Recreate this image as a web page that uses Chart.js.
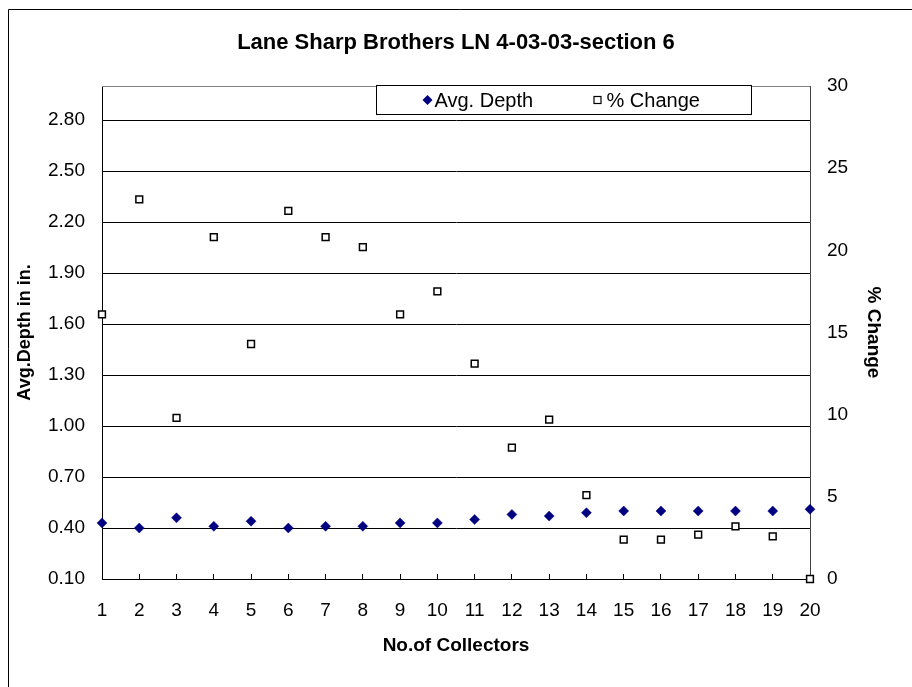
<!DOCTYPE html>
<html>
<head>
<meta charset="utf-8">
<title>Lane Sharp Brothers LN 4-03-03-section 6</title>
<script src="https://cdn.jsdelivr.net/npm/chart.js@4.4.1/dist/chart.umd.min.js"></script>
<style>
    html, body { margin: 0; padding: 0; background: #fff; }
</style>
</head>
<body>
<canvas id="depthChart" width="912" height="687"></canvas>
<script>
// collector number on x, avg depth (in.) on left axis, % change on right axis
const collectors = [1, 2, 3, 4, 5, 6, 7, 8, 9, 10, 11, 12, 13, 14, 15, 16, 17, 18, 19, 20];
const avgDepth = [0.43, 0.40, 0.46, 0.41, 0.44, 0.40, 0.41, 0.41, 0.43, 0.43,
                  0.45, 0.48, 0.47, 0.49, 0.50, 0.50, 0.50, 0.50, 0.50, 0.51];
const pctChange = [16.1, 23.1, 9.8, 20.8, 14.3, 22.4, 20.8, 20.2, 16.1, 17.5,
                   13.1, 8.0, 9.7, 5.1, 2.4, 2.4, 2.7, 3.2, 2.6, 0];
const depthTicks = [0.10, 0.40, 0.70, 1.00, 1.30, 1.60, 1.90, 2.20, 2.50, 2.80];
const changeTicks = [0, 5, 10, 15, 20, 25, 30];

const FONT = '"Liberation Sans", Arial, sans-serif';

// thin frame round the whole chart (only left/top edges show in the original)
const outerFrame = {
    id: 'outerFrame',
    beforeDraw(chart) {
        const ctx = chart.ctx;
        ctx.save();
        ctx.fillStyle = '#fff';
        ctx.fillRect(0, 0, chart.width, chart.height);
        ctx.strokeStyle = '#000';
        ctx.lineWidth = 1;
        ctx.beginPath();
        ctx.moveTo(8.5, chart.height + 2);
        ctx.lineTo(8.5, 9.5);
        ctx.lineTo(chart.width + 2, 9.5);
        ctx.stroke();
        ctx.restore();
    }
};

// top edge of plot area
const plotTop = {
    id: 'plotTop',
    beforeDatasetsDraw(chart) {
        const {ctx, chartArea} = chart;
        ctx.save();
        ctx.strokeStyle = '#808080';
        ctx.lineWidth = 1;
        ctx.beginPath();
        ctx.moveTo(chartArea.left, Math.round(chartArea.top) + 0.5);
        ctx.lineTo(chartArea.right, Math.round(chartArea.top) + 0.5);
        ctx.stroke();
        ctx.restore();
    }
};

// boxed legend sitting on the top edge of the plot
const boxLegend = {
    id: 'boxLegend',
    afterDatasetsDraw(chart) {
        const {ctx, chartArea} = chart;
        const ds = chart.data.datasets;
        const left = chartArea.left + 274.5;
        const top = Math.round(chartArea.top) - 0.5;
        const w = 375, h = 29;
        const cy = top + h / 2;
        ctx.save();
        ctx.fillStyle = '#fff';
        ctx.fillRect(left, top, w, h);
        ctx.strokeStyle = '#000';
        ctx.lineWidth = 1;
        ctx.strokeRect(left, top, w, h);

        ctx.font = '20px ' + FONT;
        ctx.textBaseline = 'middle';

        // diamond
        const dx = left + 51;
        ctx.fillStyle = '#000080';
        ctx.beginPath();
        ctx.moveTo(dx, cy - 5);
        ctx.lineTo(dx + 5, cy);
        ctx.lineTo(dx, cy + 5);
        ctx.lineTo(dx - 5, cy);
        ctx.closePath();
        ctx.fill();
        ctx.fillStyle = '#000';
        ctx.fillText(ds[0].label, dx + 7, cy + 1);

        // square
        const sx = left + 221;
        ctx.fillStyle = '#fff';
        ctx.fillRect(sx - 3.5, cy - 3.5, 7, 7);
        ctx.strokeStyle = '#000';
        ctx.lineWidth = 1.2;
        ctx.strokeRect(sx - 3.5, cy - 3.5, 7, 7);
        ctx.fillStyle = '#000';
        ctx.fillText(ds[1].label, sx + 9, cy + 1);
        ctx.restore();
    }
};

const ctx = document.getElementById('depthChart').getContext('2d');

const depthChart = new Chart(ctx, {
    type: 'scatter',
    data: {
        datasets: [
            {
                label: 'Avg. Depth',
                data: collectors.map((c, i) => ({x: c, y: avgDepth[i]})),
                yAxisID: 'y',
                pointStyle: 'rectRot',
                pointRadius: 5,
                borderWidth: 0.5,
                borderColor: '#000080',
                backgroundColor: '#000080',
                clip: false
            },
            {
                label: '% Change',
                data: collectors.map((c, i) => ({x: c, y: pctChange[i]})),
                yAxisID: 'y1',
                pointStyle: 'rect',
                pointRadius: 4.8,
                borderWidth: 1.5,
                borderColor: '#000',
                backgroundColor: '#fff',
                clip: false
            }
        ]
    },
    options: {
        responsive: false,
        animation: false,
        events: [],
        layout: { padding: 0 },
        plugins: {
            legend: { display: false },
            tooltip: { enabled: false },
            title: {
                display: true,
                text: 'Lane Sharp Brothers LN 4-03-03-section 6',
                color: '#000',
                font: { family: FONT, size: 22, weight: 'bold', lineHeight: 1.2 },
                padding: { top: 30, bottom: 29.6 }
            }
        },
        scales: {
            x: {
                type: 'linear',
                min: 1,
                max: 20,
                afterBuildTicks: (scale) => { scale.ticks = collectors.map(v => ({value: v})); },
                afterFit: (scale) => { scale.height = 108; },
                grid: {
                    drawOnChartArea: false,
                    drawTicks: true,
                    tickLength: -5,
                    color: '#000'
                },
                border: { color: '#000', width: 1 },
                ticks: {
                    color: '#000',
                    font: { family: FONT, size: 19 },
                    padding: 25,
                    maxRotation: 0,
                    autoSkip: false
                },
                title: {
                    display: true,
                    text: 'No.of Collectors',
                    color: '#000',
                    font: { family: FONT, size: 19, weight: 'bold', lineHeight: 1.2 },
                    padding: { top: 0, bottom: 30 }
                }
            },
            y: {
                type: 'linear',
                position: 'left',
                min: 0.1,
                max: 3.0,
                afterBuildTicks: (scale) => { scale.ticks = depthTicks.map(v => ({value: v})); },
                afterFit: (scale) => { scale.width = 102; },
                grid: {
                    drawTicks: false,
                    color: '#000',
                    lineWidth: 1
                },
                border: { color: '#000', width: 1 },
                ticks: {
                    color: '#000',
                    font: { family: FONT, size: 19 },
                    padding: 17,
                    callback: (v) => Number(v).toFixed(2)
                },
                title: {
                    display: true,
                    text: 'Avg.Depth in in.',
                    color: '#000',
                    font: { family: FONT, size: 18, weight: 'bold', lineHeight: 1.2 },
                    padding: { top: 14, bottom: 0 }
                }
            },
            y1: {
                type: 'linear',
                position: 'right',
                min: 0,
                max: 30,
                afterBuildTicks: (scale) => { scale.ticks = changeTicks.map(v => ({value: v})); },
                afterFit: (scale) => { scale.width = 102; },
                grid: {
                    drawOnChartArea: false,
                    drawTicks: false
                },
                border: { color: '#404040', width: 1 },
                ticks: {
                    color: '#000',
                    font: { family: FONT, size: 19 },
                    padding: 17
                },
                title: {
                    display: true,
                    text: '% Change',
                    color: '#000',
                    font: { family: FONT, size: 19, weight: 'bold', lineHeight: 1.2 },
                    padding: { top: 27, bottom: 0 }
                }
            }
        }
    },
    plugins: [outerFrame, plotTop, boxLegend]
});
</script>
</body>
</html>
